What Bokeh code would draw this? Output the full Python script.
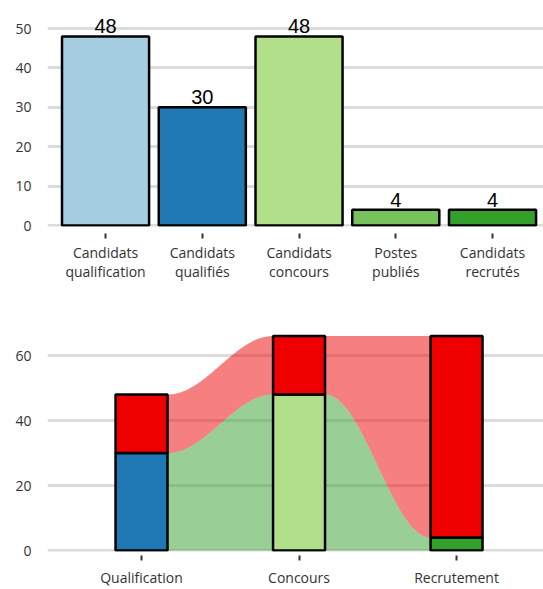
import numpy as np
from bokeh.plotting import figure
from bokeh.layouts import column
from bokeh.models import Range1d, FixedTicker, ColumnDataSource
from bokeh.core.properties import value
from bokeh.embed import file_html
from bokeh.resources import INLINE

# ---- data ----
top_labels = ["Candidats\nqualification", "Candidats\nqualifiés", "Candidats\nconcours",
              "Postes\npubliés", "Candidats\nrecrutés"]
top_values = [48, 30, 48, 4, 4]
top_colors = ["#a6cee3", "#1f78b4", "#b2df8a", "#78c25e", "#33a02c"]

stages = ["Qualification", "Concours", "Recrutement"]
stage_success = [30, 48, 4]
stage_fail = [18, 18, 62]
success_colors = ["#1f78b4", "#b2df8a", "#33a02c"]
fail_color = "#ee0000"

TICK_FONT = "Open Sans"
GRID = "#dcdcdc"


def style(p, tick_gap, tick_len, standoff):
    p.outline_line_color = None
    p.xgrid.grid_line_color = None
    p.ygrid.grid_line_color = GRID
    p.ygrid.grid_line_width = 3
    for ax in (p.xaxis, p.yaxis):
        ax.axis_line_color = None
        ax.major_label_text_font = TICK_FONT
        ax.major_label_text_font_size = "14px"
        ax.major_label_text_color = "#333333"
        ax.minor_tick_line_color = None
    p.xaxis.major_label_text_line_height = 1.0
    p.yaxis.major_tick_line_color = None
    p.yaxis.major_label_standoff = 10
    p.xaxis.major_tick_line_color = "#333333"
    p.xaxis.major_tick_line_width = 2
    p.xaxis.major_tick_in = -tick_gap
    p.xaxis.major_tick_out = tick_gap + tick_len
    p.xaxis.major_label_standoff = standoff


# ---- top chart ----
idx = list(range(len(top_labels)))
src = ColumnDataSource(dict(x=idx, top=top_values, color=top_colors,
                            lab=[str(v) for v in top_values]))
p1 = figure(width=543, height=290, output_backend="svg", toolbar_location=None,
            x_range=Range1d(-0.6, 4.527), y_range=Range1d(-0.25, 56.6),
            min_border_top=2, min_border_left=47, min_border_right=0, min_border_bottom=64)
style(p1, 7, 5, 4)
p1.vbar(x="x", top="top", bottom=0, width=0.9, fill_color="color",
        line_color="black", line_width=2.5, source=src)
p1.text(x="x", y="top", text="lab", source=src, text_align="center",
        text_baseline="bottom", text_font=value("Liberation Sans"),
        text_font_size="20px", text_color="black", y_offset=-3)
p1.yaxis.ticker = FixedTicker(ticks=[0, 10, 20, 30, 40, 50])
p1.xaxis.ticker = FixedTicker(ticks=idx)
p1.xaxis.major_label_overrides = {i: l for i, l in zip(idx, top_labels)}

# ---- bottom chart (alluvial) ----
sx = list(range(len(stages)))
bw = 0.33
p2 = figure(width=543, height=299, output_backend="svg", toolbar_location=None,
            x_range=Range1d(-0.597, 2.552), y_range=Range1d(-0.3, 71.4),
            min_border_top=28, min_border_left=47, min_border_right=0, min_border_bottom=38)
style(p2, 4, 5, 7)

succ = np.array(stage_success, dtype=float)
total = succ + np.array(stage_fail, dtype=float)
for i in range(len(stages) - 1):
    x0 = sx[i] + bw / 2
    x1 = sx[i + 1] - bw / 2
    t = np.linspace(0, 1, 80)
    s = (1 - np.cos(np.pi * t)) / 2
    xs = x0 + (x1 - x0) * t
    g_top = succ[i] + (succ[i + 1] - succ[i]) * s
    r_top = total[i] + (total[i + 1] - total[i]) * s
    p2.varea(x=xs, y1=np.zeros_like(xs), y2=g_top, fill_color="#33a02c", fill_alpha=0.5)
    p2.varea(x=xs, y1=g_top, y2=r_top, fill_color=fail_color, fill_alpha=0.5)

p2.vbar(x=sx, bottom=0, top=stage_success, width=bw, fill_color=success_colors,
        line_color="black", line_width=2.5)
p2.vbar(x=sx, bottom=stage_success, top=list(total), width=bw, fill_color=fail_color,
        line_color="black", line_width=2.5)
p2.yaxis.ticker = FixedTicker(ticks=[0, 20, 40, 60])
p2.xaxis.ticker = FixedTicker(ticks=sx)
p2.xaxis.major_label_overrides = {i: l for i, l in zip(sx, stages)}

layout = column(p1, p2, spacing=0)
open("out.html", "w").write(file_html(layout, INLINE))
